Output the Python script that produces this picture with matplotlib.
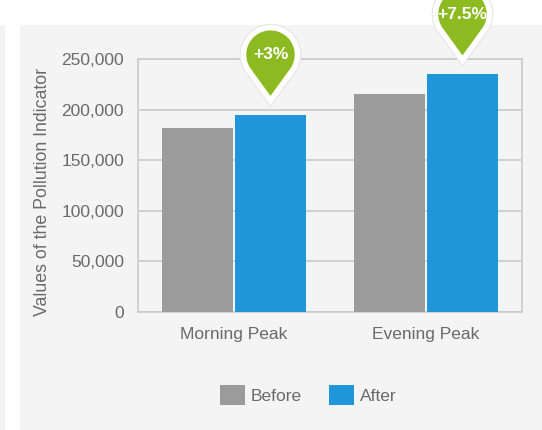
import numpy as np
import matplotlib
matplotlib.use('Agg')
import matplotlib.pyplot as plt
from matplotlib.path import Path
from matplotlib.patches import PathPatch, Rectangle, Patch
from matplotlib.transforms import ScaledTranslation

plt.rcParams['font.family'] = ['Liberation Sans', 'DejaVu Sans']
plt.rcParams['font.size'] = 12.5

categories = ['Morning Peak', 'Evening Peak']
before = [182000, 215000]
after = [195000, 235000]
changes = ['+3%', '+7.5%']
yticks = [0, 50000, 100000, 150000, 200000, 250000]

c_before = '#9b9b9b'
c_after = '#1f96d8'
c_pin = '#8dba21'
c_text = '#6a6a6a'
c_line = '#cbcbcb'
c_panel = '#f4f4f4'

fig = plt.figure(figsize=(5.42, 4.30), dpi=100)
fig.patch.set_facecolor('white')

# grey card behind the chart, plus the thin strip at the far left
fig.patches.append(Rectangle((20 / 542, 0), 1, 405 / 430, transform=fig.transFigure,
                             facecolor=c_panel, edgecolor='none', zorder=-10))
fig.patches.append(Rectangle((0, 0), 5 / 542, 405 / 430, transform=fig.transFigure,
                             facecolor='#f3f3f3', edgecolor='none', zorder=-10))

ax = fig.add_axes([138 / 542, 118 / 430, 384 / 542, 253 / 430])
ax.set_facecolor(c_panel)

x = np.arange(len(categories))
w = 0.365
ax.bar(x - 0.19, before, w, color=c_before, zorder=3)
ax.bar(x + 0.19, after, w, color=c_after, zorder=3)

ax.set_xlim(-0.5, 1.5)
ax.set_ylim(0, 250000)
ax.set_yticks(yticks)
ax.set_yticklabels([f'{v:,}' for v in yticks], color=c_text)
ax.set_xticks(x)
ax.set_xticklabels(categories, color=c_text)
ax.tick_params(axis='y', length=0, pad=10)
ax.tick_params(axis='x', length=0, pad=11)
ax.grid(axis='y', color=c_line, linewidth=1.2, zorder=1)
for s in ax.spines.values():
    s.set_color(c_line)
    s.set_linewidth(1.2)

fig.text(43 / 542, 1 - 192 / 430, 'Values of the Pollution Indicator', rotation=90,
         ha='center', va='center', color=c_text, fontsize=12.8)


# teardrop marker above each "after" bar, sized in inches
def pin_path(r, d, gap):
    theta = np.arccos(r / d)
    cy = gap + d
    angles = np.linspace(-np.pi / 2 + theta, 3 * np.pi / 2 - theta, 80)
    pts = [(0, gap)] + [(r * np.cos(a), cy + r * np.sin(a)) for a in angles] + [(0, gap)]
    codes = [Path.MOVETO] + [Path.LINETO] * (len(pts) - 2) + [Path.CLOSEPOLY]
    return Path(pts, codes), cy


for xi, val, label in zip(x + 0.19, after, changes):
    trans = fig.dpi_scale_trans + ScaledTranslation(xi, val, ax.transData)
    path, cy = pin_path(0.27, 0.46, 0.14)
    ax.add_patch(PathPatch(path, transform=trans, facecolor='#e4e4e4', edgecolor='#e4e4e4',
                           linewidth=5.5, clip_on=False, zorder=4))
    ax.add_patch(PathPatch(path, transform=trans, facecolor=c_pin, edgecolor='white',
                           linewidth=4, clip_on=False, zorder=5))
    ax.text(0, cy, label, transform=trans, ha='center', va='center', color='white',
            fontsize=12.5, fontweight='bold', zorder=6, clip_on=False)

handles = [Patch(facecolor=c_before, label='Before'), Patch(facecolor=c_after, label='After')]
leg = fig.legend(handles=handles, loc='center', bbox_to_anchor=(308 / 542, 35 / 430), ncol=2,
                 frameon=False, handlelength=1.45, handleheight=1.45, handletextpad=0.3,
                 columnspacing=1.6, fontsize=12.5)
for t in leg.get_texts():
    t.set_color(c_text)

fig.savefig('out.png', dpi=100, facecolor=fig.get_facecolor())
